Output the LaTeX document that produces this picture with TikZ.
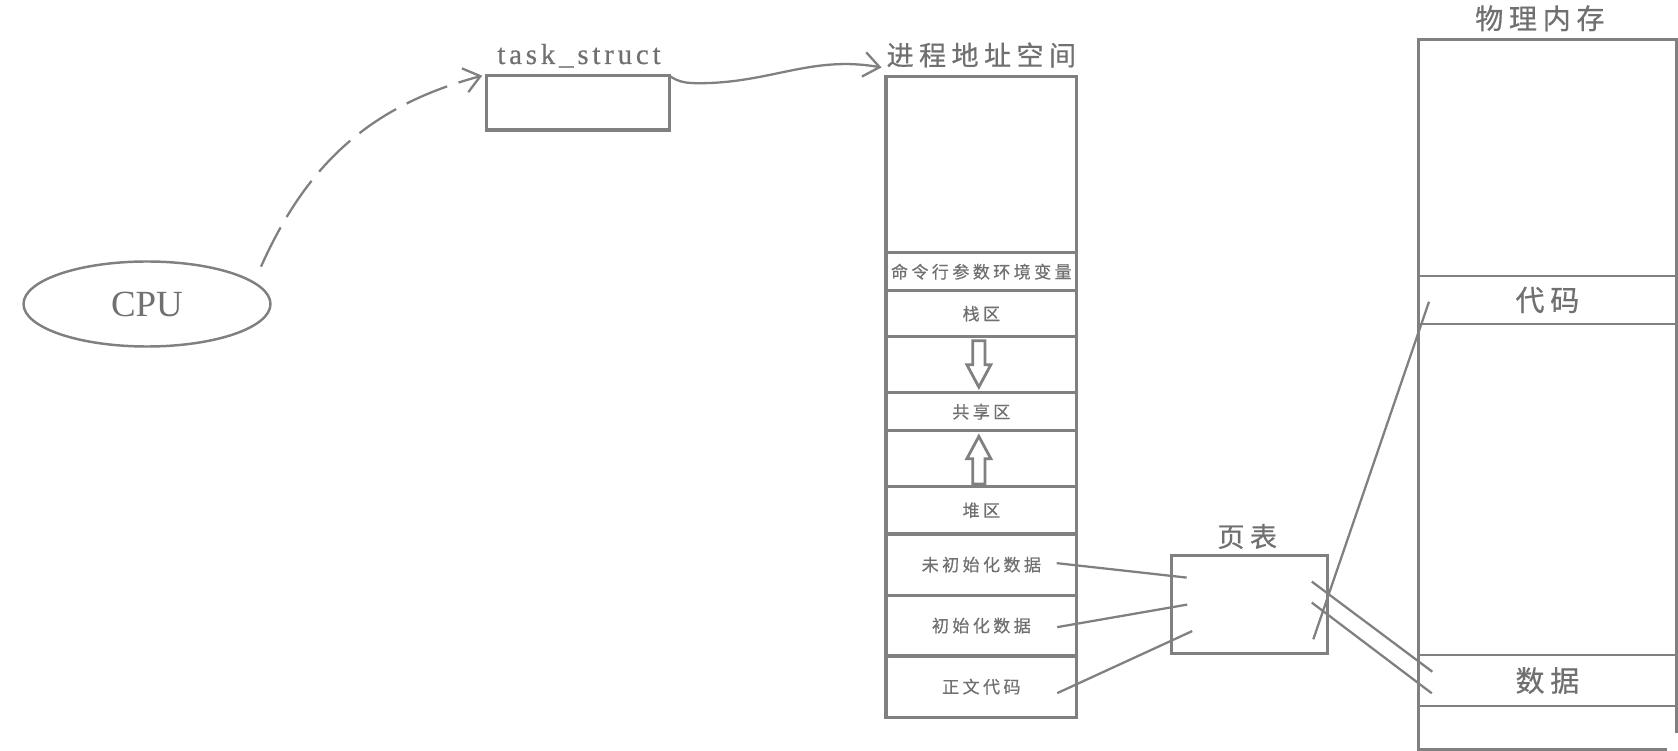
\documentclass[tikz,border=0pt]{standalone}
\usepackage{fontspec}
\setmainfont{Liberation Serif}
\newfontfamily\cjk{Noto Sans CJK SC}[LetterSpace=20, FakeBold=0.6]
\newfontfamily\spaced{Liberation Serif}[LetterSpace=13, FakeBold=0.5]
\usetikzlibrary{shapes.geometric, arrows.meta, positioning, calc}
\definecolor{linegray}{RGB}{128,128,128}
\definecolor{textgray}{RGB}{112,112,112}

\begin{document}
\begin{tikzpicture}[
        box/.style={draw=linegray, line width=1.9pt, inner sep=0pt, outer sep=0pt},
        vasrow/.style={box, minimum width=3.814cm, text=textgray, font=\cjk\fontsize{9.7}{11}\selectfont},
        memrow/.style={draw=linegray, line width=1.6pt, inner sep=0pt, outer sep=0pt, minimum width=5.164cm, text=textgray, font=\cjk\fontsize{16.5}{18}\selectfont},
        headline/.style={inner sep=0pt, text=textgray, font=\cjk\fontsize{15.4}{17}\selectfont},
        conn/.style={draw=linegray, line width=1.3pt},
        hollow/.style={draw=linegray, line width=1.6pt, line join=miter},
        barb/.style={-{Straight Barb[length=9pt, width=14pt]}}
    ]
        \useasboundingbox (0,0) rectangle (33.56,-15.02);

        % CPU
        \node[ellipse, draw=linegray, line width=1.4pt, minimum width=4.94cm, minimum height=1.70cm, inner sep=0pt, text=textgray, font=\fontsize{21}{22}\selectfont] (cpu) at (2.94,-6.08) {CPU};

        % task_struct
        \node[box, minimum width=3.652cm, minimum height=1.086cm] (task) at (11.56,-2.057) {};
        \node[anchor=base, inner sep=0pt, text=textgray, font=\spaced\fontsize{16.5}{18}\selectfont] (tasktitle) at ($(task.north)+(0.02,0.234)$) {task\_struct};

        % Process address space
        \node[vasrow, minimum height=3.524cm, anchor=north] (vastop) at (19.627,-1.53) {};
        \node[vasrow, minimum height=0.76cm, below=0pt of vastop] (vasargs) {命令行参数环境变量};
        \node[vasrow, minimum height=0.92cm, below=0pt of vasargs] (vasstack) {栈区};
        \node[vasrow, minimum height=1.12cm, below=0pt of vasstack] (vasdown) {};
        \node[vasrow, minimum height=0.76cm, below=0pt of vasdown] (vasshared) {共享区};
        \node[vasrow, minimum height=1.12cm, below=0pt of vasshared] (vasup) {};
        \node[vasrow, minimum height=0.946cm, below=0pt of vasup] (vasheap) {堆区};
        \node[vasrow, minimum height=1.226cm, below=0pt of vasheap] (vasbss) {未初始化数据};
        \node[vasrow, minimum height=1.214cm, below=0pt of vasbss] (vasdata) {初始化数据};
        \node[vasrow, minimum height=1.226cm, below=0pt of vasdata] (vastext) {正文代码};
        \node[headline] (vastitle) at ($(vastop.north)+(0,0.43)$) {进程地址空间};

        % Growth arrows
        \draw[hollow] ($(vasdown.center)+(-0.173,0.48)$) -- ++(0.246,0) -- ++(0,-0.48) -- ++(0.117,0) -- ++(-0.24,-0.446) -- ++(-0.24,0.446) -- ++(0.117,0) -- cycle;
        \draw[hollow] ($(vasup.center)+(-0.173,-0.506)$) -- ++(0.246,0) -- ++(0,0.506) -- ++(0.117,0) -- ++(-0.24,0.446) -- ++(-0.24,-0.446) -- ++(0.117,0) -- cycle;

        % Page table
        \node[box, minimum width=3.122cm, minimum height=1.964cm] (pagetable) at (24.995,-12.092) {};
        \node[headline] (pttitle) at ($(pagetable.north)+(-0.05,0.38)$) {页表};

        % Physical memory
        \node[memrow, minimum height=4.734cm, anchor=north] (memtop) at (30.948,-0.786) {};
        \node[memrow, minimum height=0.96cm, below=0pt of memtop] (memcode) {代码};
        \node[memrow, minimum height=6.62cm, below=0pt of memcode] (memmid) {};
        \node[memrow, minimum height=1.02cm, below=0pt of memmid] (memdata) {数据};
        \node[memrow, draw=none, minimum height=0.866cm, below=0pt of memdata] (memrest) {};
        \draw[linegray, line width=1.6pt] (memrest.north west) -- (memrest.south west) -- ($(memrest.south east)+(-0.196,0)$);
        \draw[linegray, line width=1.6pt] (memrest.north east) -- ++(0,-0.546);
        \node[headline, font=\cjk\fontsize{16}{18}\selectfont] (memtitle) at ($(memtop.north)+(-0.15,0.42)$) {物理内存};

        % CPU to task_struct
        \draw[conn, barb, dash pattern=on 25pt off 6.8pt] ($(cpu.center)+(2.28,0.746)$) to[out=66, in=195] ($(task.north west)+(-0.09,0)$);

        % task_struct to address space
        \draw[conn, barb] (task.north east) to[out=-35, in=180] ++(0.6,-0.15) to[out=0, in=170] ($(vastop.north west)+(-0.09,0.18)$);

        % Address space to page table
        \draw[conn] ($(vasbss.east)+(-0.4,0.03)$) -- ($(pagetable.west)+(0.3,0.54)$);
        \draw[conn] ($(vasdata.east)+(-0.39,-0.03)$) -- ($(pagetable.west)+(0.31,0)$);
        \draw[conn] ($(vastext.east)+(-0.39,-0.13)$) -- ($(pagetable.west)+(0.41,-0.53)$);

        % Page table to physical memory
        \draw[conn] ($(pagetable.east)+(-0.32,0.46)$) -- ($(memdata.west)+(0.28,0.176)$);
        \draw[conn] ($(pagetable.east)+(-0.32,0.04)$) -- ($(memdata.west)+(0.27,-0.256)$);
        \draw[conn] ($(pagetable.east)+(-0.29,-0.694)$) -- ($(memcode.west)+(0.214,-0.034)$);
    \end{tikzpicture}
\end{document}
